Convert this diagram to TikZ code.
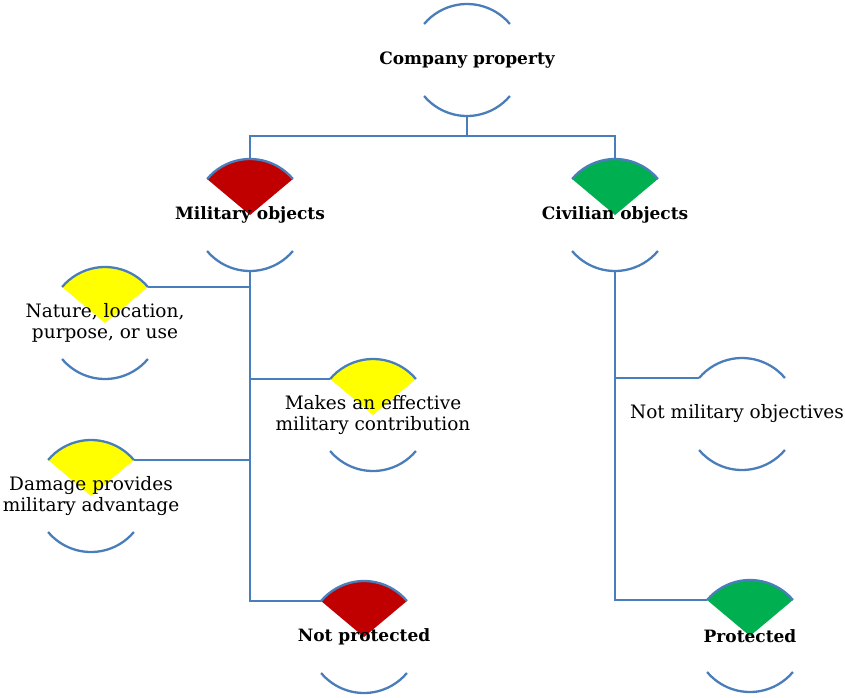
\documentclass[tikz,border=0pt]{standalone}
\usepackage{fontspec}
\setmainfont{DejaVu Serif}
\usetikzlibrary{positioning, calc}
\pgfdeclarelayer{bg}
\pgfsetlayers{bg,main}
\definecolor{linkblue}{RGB}{74,126,187}
\definecolor{milred}{RGB}{192,0,0}
\definecolor{civgreen}{RGB}{0,176,80}
\definecolor{crityellow}{RGB}{255,255,0}

\begin{document}
\begin{tikzpicture}[x=1pt,y=1pt]
	\def \rad{56pt}
	\tikzstyle{ring}=[circle,minimum size=112pt,inner sep=0pt,outer sep=0pt]
	\tikzstyle{head}=[font=\bfseries\fontsize{17}{20}\selectfont]
	\tikzstyle{crit}=[font=\fontsize{18.5}{21}\selectfont,align=center]
	\tikzstyle{link}=[draw=linkblue,line width=2.3pt]
	\useasboundingbox (0,0) rectangle (845,-697);

	% top level
	\node[ring,label={[head]center:Company property}]	(prop)	at (467,-60)	{};

	% second level
	\node[ring,label={[head]center:Military objects}]	(mil)	at (250,-215)	{};
	\node[ring,label={[head]center:Civilian objects}]	(civ)	at (615,-215)	{};

	% criteria
	\node[ring,label={[crit]center:{Nature, location,\\purpose, or use}}]	(nat)	at (105,-323)	{};
	\node[ring,label={[crit]center:{Makes an effective\\military contribution}}]	(mak)	at (373,-415)	{};
	\node[ring,label={[crit]center:{Damage provides\\military advantage}}]	(dam)	at (91,-496)	{};
	\node[ring,label={[crit,xshift=-5pt]center:{Not military objectives}}]	(notm)	at (742,-414)	{};

	% outcome
	\node[ring,label={[head]center:Not protected}]	(notp)	at (364,-637)	{};
	\node[ring,label={[head]center:Protected}]	(prot)	at (750,-636)	{};

	% wedges
	\begin{pgfonlayer}{bg}
	\foreach \n/\c in {mil/milred,civ/civgreen,nat/crityellow,mak/crityellow,dam/crityellow,notp/milred,prot/civgreen}
		\fill[\c] (\n.center) -- (\n.40) arc[start angle=40,end angle=140,radius=\rad] -- cycle;
	\end{pgfonlayer}

	% arcs
	\foreach \n in {prop,mil,civ,nat,mak,dam,notm,notp,prot}{
		\draw[link] (\n.40) arc[start angle=40,end angle=140,radius=\rad];
		\draw[link] (\n.220) arc[start angle=220,end angle=320,radius=\rad];
	}

	% connectors
	\draw[link] (prop.south) -- ++(0,-20) coordinate (fork);
	\draw[link] (mil.north) |- (fork) -| (civ.north);
	\draw[link] (mil.south) |- (notp.140);
	\draw[link] (nat.40) -- (nat.40 -| mil.south);
	\draw[link] (mak.140) -- (mak.140 -| mil.south);
	\draw[link] (dam.40) -- (dam.40 -| mil.south);
	\draw[link] (civ.south) |- (prot.140);
	\draw[link] (notm.140) -- (notm.140 -| civ.south);
\end{tikzpicture}
\end{document}
